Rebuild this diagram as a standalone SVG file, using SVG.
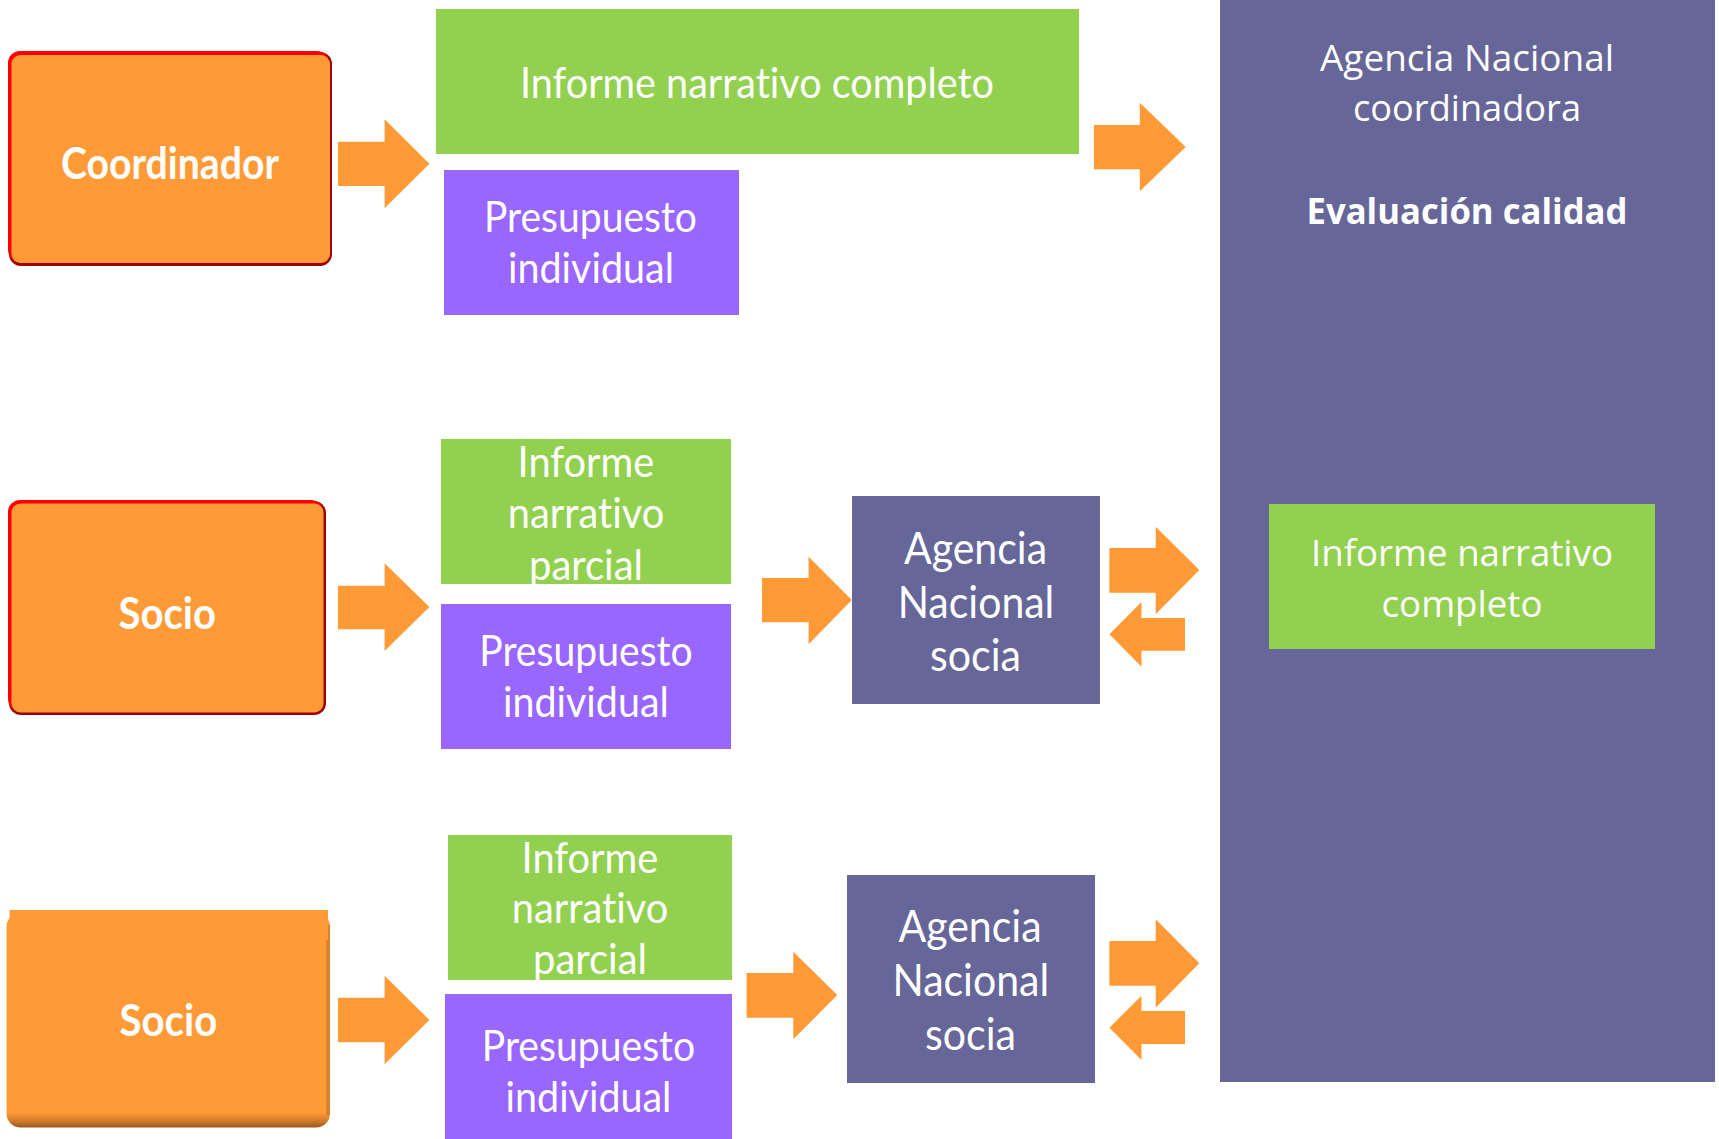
<svg xmlns="http://www.w3.org/2000/svg" width="1719" height="1139" viewBox="0 0 1719 1139">
<defs>
<style>
text{font-variant-ligatures:none}
.cal{font-family:Lato,"Liberation Sans",sans-serif;font-size:42px;fill:#fff}
.calb{font-family:Lato,"Liberation Sans",sans-serif;font-size:43px;font-weight:bold;fill:#fff}
.ag{font-family:Lato,"Liberation Sans",sans-serif;font-size:44px;fill:#fff}
.os{font-family:"Open Sans","Liberation Sans",sans-serif;font-size:37px;fill:#fff}
.osb{font-family:"Open Sans","Liberation Sans",sans-serif;font-size:36px;font-weight:bold;fill:#fff}
.green{fill:#92D050}
.purple{fill:#9966FF}
.navy{fill:#666699}
.orange{fill:#FF9A36}
.arrow{fill:#FF9A36}
</style>
<linearGradient id="sh" x1="0" y1="0" x2="0" y2="1">
<stop offset="0" stop-color="#FF9A36"/>
<stop offset="0.93" stop-color="#FF9A36"/>
<stop offset="0.97" stop-color="#D07A2A"/>
<stop offset="1" stop-color="#9A5A1E"/>
</linearGradient>
</defs>
<rect width="1719" height="1139" fill="#fff"/>

<g id="panel-coordinadora">
<rect class="navy" x="1220" y="0" width="495" height="1082"/>
<text class="os" x="1467" y="70.5" text-anchor="middle" textLength="294" lengthAdjust="spacingAndGlyphs">Agencia Nacional</text>
<text class="os" x="1467" y="120.5" text-anchor="middle" textLength="228" lengthAdjust="spacingAndGlyphs">coordinadora</text>
<text class="osb" x="1467" y="223.5" text-anchor="middle" textLength="321" lengthAdjust="spacingAndGlyphs">Evaluación calidad</text>
</g>

<g id="informe-completo-final">
<rect class="green" x="1269" y="504" width="386" height="145"/>
<text class="os" x="1462" y="565.5" text-anchor="middle" textLength="302" lengthAdjust="spacingAndGlyphs">Informe narrativo</text>
<text class="os" x="1462" y="616.5" text-anchor="middle" textLength="161" lengthAdjust="spacingAndGlyphs">completo</text>
</g>

<g id="coordinador">
<rect x="9" y="52" width="323" height="214" rx="12" fill="#A00000"/>
<rect x="8" y="51" width="321" height="211" rx="12" fill="#FF0000"/>
<rect class="orange" x="11.5" y="55" width="318.5" height="208" rx="9"/>
<text class="calb" x="61" y="178.7" textLength="218" lengthAdjust="spacingAndGlyphs">Coordinador</text>
</g>

<g id="socio1">
<rect x="9" y="501" width="317" height="214" rx="12" fill="#A00000"/>
<rect x="8" y="500" width="315" height="211" rx="12" fill="#FF0000"/>
<rect class="orange" x="11.5" y="503.5" width="312" height="209" rx="9"/>
<text class="calb" x="118.6" y="629.3" textLength="97.4" lengthAdjust="spacingAndGlyphs">Socio</text>
</g>

<g id="socio2">
<rect x="6.5" y="913" width="323.5" height="214.5" rx="14" fill="url(#sh)"/>
<rect x="326" y="925" width="4" height="190" fill="#D9822E"/>
<rect class="orange" x="9.6" y="910" width="318.4" height="30"/>
<text class="calb" x="119.4" y="1036" textLength="98" lengthAdjust="spacingAndGlyphs">Socio</text>
</g>

<g id="informe-completo-coord">
<rect class="green" x="436" y="9" width="643" height="145"/>
<text class="cal" x="520" y="98" textLength="474" lengthAdjust="spacingAndGlyphs">Informe narrativo completo</text>
</g>

<g id="presupuesto-coord">
<rect class="purple" x="444" y="170" width="295" height="145"/>
<text class="cal" x="484" y="232" textLength="213" lengthAdjust="spacingAndGlyphs">Presupuesto</text>
<text class="cal" x="508" y="283" textLength="166" lengthAdjust="spacingAndGlyphs">individual</text>
</g>

<g id="informe-parcial-1">
<rect class="green" x="441" y="439" width="290" height="145"/>
<text class="cal" x="517.6" y="476.5" textLength="136.7" lengthAdjust="spacingAndGlyphs">Informe</text>
<text class="cal" x="507.8" y="528" textLength="156.4" lengthAdjust="spacingAndGlyphs">narrativo</text>
<text class="cal" x="529" y="579.5" textLength="114" lengthAdjust="spacingAndGlyphs">parcial</text>
</g>

<g id="presupuesto-1">
<rect class="purple" x="441" y="604" width="290" height="145"/>
<text class="cal" x="479.3" y="666" textLength="213.4" lengthAdjust="spacingAndGlyphs">Presupuesto</text>
<text class="cal" x="503" y="717" textLength="165.8" lengthAdjust="spacingAndGlyphs">individual</text>
</g>

<g id="informe-parcial-2">
<rect class="green" x="448" y="835" width="284" height="145"/>
<text class="cal" x="521.6" y="872.5" textLength="136.7" lengthAdjust="spacingAndGlyphs">Informe</text>
<text class="cal" x="511.8" y="923" textLength="156.4" lengthAdjust="spacingAndGlyphs">narrativo</text>
<text class="cal" x="533" y="974" textLength="114" lengthAdjust="spacingAndGlyphs">parcial</text>
</g>

<g id="presupuesto-2">
<rect class="purple" x="445" y="994" width="287" height="145"/>
<text class="cal" x="481.8" y="1061" textLength="213.4" lengthAdjust="spacingAndGlyphs">Presupuesto</text>
<text class="cal" x="505.6" y="1112" textLength="165.8" lengthAdjust="spacingAndGlyphs">individual</text>
</g>

<g id="agencia-socia-1">
<rect class="navy" x="852" y="496" width="248" height="208"/>
<text class="ag" x="904" y="563.5" textLength="143" lengthAdjust="spacingAndGlyphs">Agencia</text>
<text class="ag" x="897.7" y="617.5" textLength="156.6" lengthAdjust="spacingAndGlyphs">Nacional</text>
<text class="ag" x="930" y="671" textLength="91" lengthAdjust="spacingAndGlyphs">socia</text>
</g>

<g id="agencia-socia-2">
<rect class="navy" x="847" y="875" width="248" height="208"/>
<text class="ag" x="898.5" y="942" textLength="143" lengthAdjust="spacingAndGlyphs">Agencia</text>
<text class="ag" x="892.5" y="996" textLength="156.6" lengthAdjust="spacingAndGlyphs">Nacional</text>
<text class="ag" x="925" y="1050.3" textLength="91" lengthAdjust="spacingAndGlyphs">socia</text>
</g>

<g id="connectors">
<polygon class="arrow" points="338,141.7 384.6,141.7 384.6,119.3 429.4,163.7 384.6,208.3 384.6,186 338,186"/>
<polygon class="arrow" points="1093.9,125 1139.8,125 1139.8,102.7 1185.7,147 1139.8,191.3 1139.8,169.3 1093.9,169.3"/>
<polygon class="arrow" points="338,585.7 384.6,585.7 384.6,563.3 429.4,607 384.6,651 384.6,629.3 338,629.3"/>
<polygon class="arrow" points="762,578 808.6,578 808.6,556.7 851.8,600 808.6,644.3 808.6,622.3 762,622.3"/>
<polygon class="arrow" points="1109.4,548 1155.7,548 1155.7,526.7 1199.3,570 1155.7,614.3 1155.7,592.7 1109.4,592.7"/>
<polygon class="arrow" points="1185,618 1141.5,618 1141.5,602 1109.4,634.3 1141.5,666.7 1141.5,650.7 1185,650.7"/>
<polygon class="arrow" points="338,997.7 384.6,997.7 384.6,975.7 429.4,1020 384.6,1064.3 384.6,1042.3 338,1042.3"/>
<polygon class="arrow" points="746.6,973 793.3,973 793.3,951.7 837.3,995 793.3,1039.3 793.3,1017.7 746.6,1017.7"/>
<polygon class="arrow" points="1109.4,941 1155.7,941 1155.7,919.3 1199.3,963.3 1155.7,1007.7 1155.7,985.7 1109.4,985.7"/>
<polygon class="arrow" points="1185,1011 1141.5,1011 1141.5,995.7 1109.4,1027.7 1141.5,1060 1141.5,1044 1185,1044"/>
</g>
</svg>
